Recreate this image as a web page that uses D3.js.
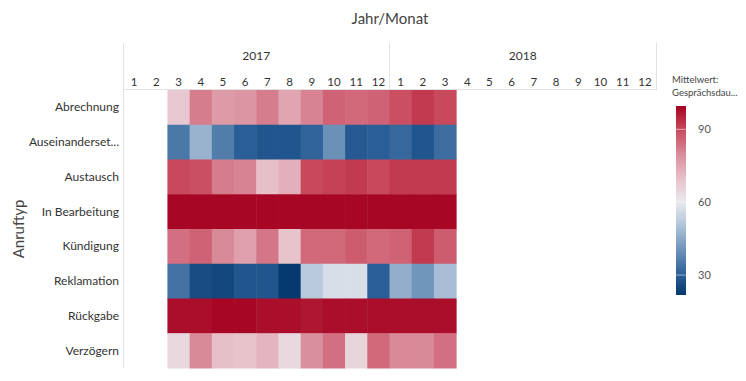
<!DOCTYPE html>
<html><head><meta charset="utf-8">
<script src="https://cdn.jsdelivr.net/npm/d3@7/dist/d3.min.js"></script>
<style>
html,body{margin:0;padding:0;background:#fff;}
svg{display:block;font-family:Lato,"Noto Sans",sans-serif;}
</style></head>
<body><svg id="chart" width="746" height="381"></svg>
<script>
const years = ["2017", "2018"];
const months = ["1","2","3","4","5","6","7","8","9","10","11","12"];
const categories = ["Abrechnung","Auseinanderset...","Austausch","In Bearbeitung","Kündigung","Reklamation","Rückgabe","Verzögern"];
// values for 2017-03 .. 2018-03 (13 months)
const startIndex = 2;
const abrechnung     = [68,82,77,78,82,75,81,86,85,86,89,92,90];
const auseinanderset = [35,47,36,30,28,28,31,40,29,30,32,28,33];
const austausch      = [90,89,82,81,70,73,90,91,92,90,92,92,92];
const inBearbeitung  = [99,99,99,99,99,99,99,99,99,99,99,99,99];
const kuendigung     = [84,86,80,76,83,69,85,85,87,85,86,92,87];
const reklamation    = [34,26,25,28,28,22,52,57,57,30,46,41,49];
const rueckgabe      = [98,98,99,99,98,98,97,98,98,98,98,98,98];
const verzoegern     = [64,80,70,69,72,64,79,84,65,85,80,80,84];
const legendTicks = [30, 60, 90];
const colorStops = [22, 30, 40, 50, 60, 70, 80, 90, 100];
const colorRange = ["#063970","#2a5e96","#6a91b8","#adc2d8","#e9eaee","#e7bfc8","#d98a99","#c8485c","#a3001e"];
const seriesList = [abrechnung, auseinanderset, austausch, inBearbeitung, kuendigung, reklamation, rueckgabe, verzoegern];

const svg = d3.select("#chart");
const gridL = 123, gridR = 656, headTop = 43, headBottom = 89, bodyTop = 90, bodyBottom = 368;

const periods = [];
years.forEach(y => months.forEach(m => periods.push(y + "-" + m)));
const x = d3.scaleBand().domain(periods).range([gridL, gridR]);
const y = d3.scaleBand().domain(categories).range([bodyTop, bodyBottom]);

const cells = [];
seriesList.forEach((arr, i) => arr.forEach((v, j) => {
  if (v != null) cells.push({cat: categories[i], period: periods[startIndex + j], value: v});
}));
const vmin = 21.8, vmax = 99.6;
const color = d3.scaleLinear().domain(colorStops).range(colorRange).clamp(true);

// title
svg.append("text").attr("x", 390).attr("y", 24).attr("text-anchor", "middle")
  .attr("font-size", 15).attr("fill", "#444").text("Jahr/Monat");

// header lines
const lc = "#e2e2e2";
svg.append("line").attr("x1", gridL + .5).attr("x2", gridL + .5).attr("y1", headTop).attr("y2", bodyBottom).attr("stroke", lc);
years.forEach((yr, i) => {
  const xe = x(yr + "-12") + x.bandwidth();
  svg.append("line").attr("x1", Math.round(xe) + .5).attr("x2", Math.round(xe) + .5)
    .attr("y1", headTop).attr("y2", headBottom).attr("stroke", lc);
  const xs = x(yr + "-1");
  svg.append("text").attr("x", (xs + xe) / 2).attr("y", 60).attr("text-anchor", "middle")
    .attr("font-size", 12).attr("fill", "#333").text(yr);
});
svg.append("line").attr("x1", gridL).attr("x2", gridR + 1).attr("y1", headBottom + .5).attr("y2", headBottom + .5).attr("stroke", lc);

// month labels
svg.append("g").selectAll("text").data(periods).join("text")
  .attr("x", d => x(d) + x.bandwidth() / 2).attr("y", 86).attr("text-anchor", "middle")
  .attr("font-size", 11.5).attr("fill", "#333").text(d => d.split("-")[1]);

// cells
svg.append("g").selectAll("rect").data(cells).join("rect")
  .attr("x", d => x(d.period)).attr("y", d => y(d.cat))
  .attr("width", x.bandwidth() + 0.5).attr("height", y.bandwidth() + 0.5)
  .attr("fill", d => color(d.value));

// row labels
svg.append("g").selectAll("text").data(categories).join("text")
  .attr("x", 119).attr("y", d => y(d) + y.bandwidth() / 2 + 4).attr("text-anchor", "end")
  .attr("font-size", 12).attr("fill", "#333").text(d => d);

// y title
svg.append("text").attr("transform", "translate(24," + ((bodyTop + bodyBottom) / 2) + ") rotate(-90)")
  .attr("text-anchor", "middle").attr("font-size", 15).attr("fill", "#444").text("Anruftyp");

// legend
const lgTop = 106, lgBottom = 295, lgX = 676, lgW = 10;
svg.append("text").attr("x", 672).attr("y", 83).attr("font-size", 9.5).attr("fill", "#444").text("Mittelwert:");
svg.append("text").attr("x", 672).attr("y", 96).attr("font-size", 9.5).attr("fill", "#444").text("Gesprächsdau...");
const ly = d3.scaleLinear().domain([vmin, vmax]).range([lgBottom, lgTop]);
const defs = svg.append("defs");
const grad = defs.append("linearGradient").attr("id", "lg").attr("x1", 0).attr("x2", 0).attr("y1", 1).attr("y2", 0);
d3.range(0, 1.0001, 0.025).forEach(t => {
  grad.append("stop").attr("offset", t).attr("stop-color", color(vmin + t * (vmax - vmin)));
});
svg.append("rect").attr("x", lgX).attr("y", lgTop).attr("width", lgW).attr("height", lgBottom - lgTop).attr("fill", "url(#lg)");
legendTicks.forEach(t => {
  svg.append("line").attr("x1", lgX).attr("x2", lgX + lgW).attr("y1", ly(t)).attr("y2", ly(t))
    .attr("stroke", "#fff").attr("stroke-opacity", 0.5).attr("stroke-width", 1);
  svg.append("text").attr("x", 698).attr("y", ly(t) + 4).attr("font-size", 11).attr("fill", "#555").text(t);
});
</script></body></html>
